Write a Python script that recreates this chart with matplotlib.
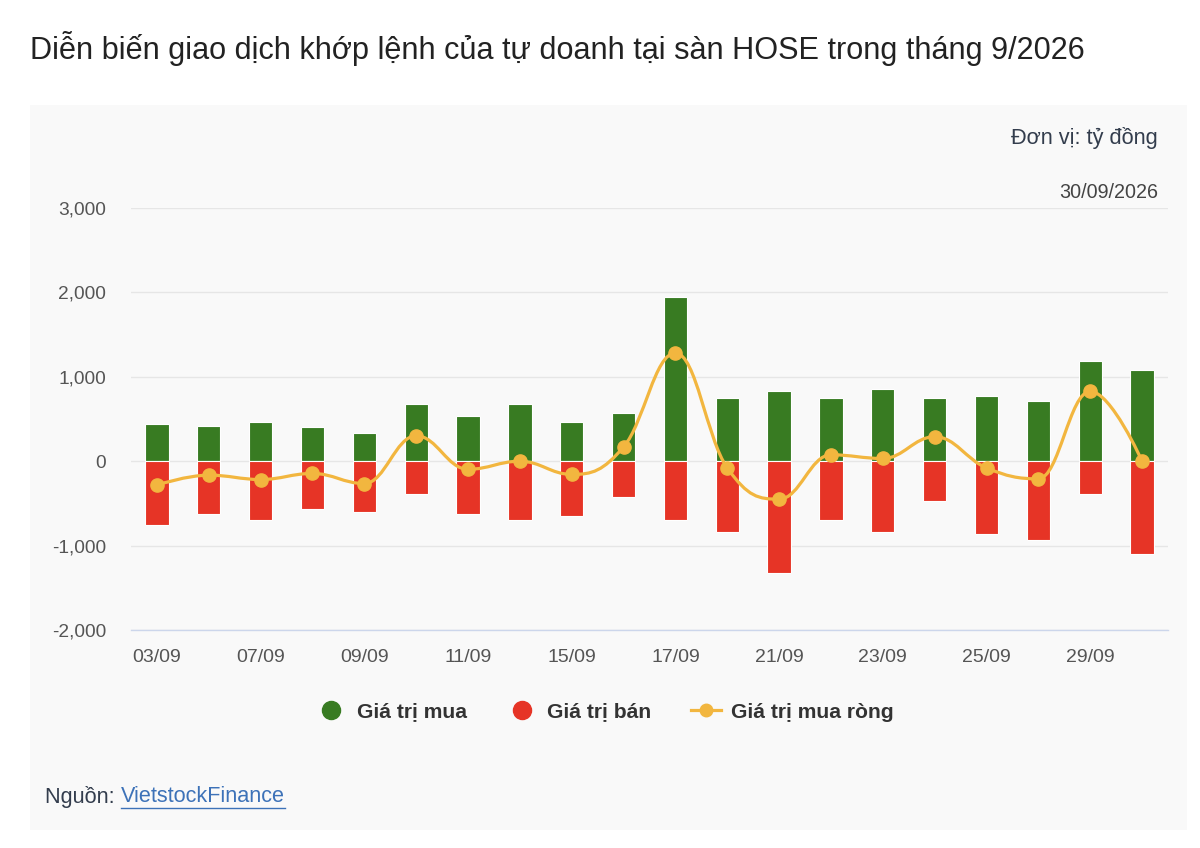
import matplotlib
matplotlib.use("Agg")
import matplotlib.pyplot as plt
from matplotlib.path import Path
from matplotlib.patches import PathPatch, Rectangle
from matplotlib.lines import Line2D
import numpy as np

plt.rcParams['font.family'] = ['Liberation Sans', 'DejaVu Sans']

# data (ty dong)
dates = ["03/09", "04/09", "07/09", "08/09", "09/09", "10/09", "11/09", "14/09",
         "15/09", "16/09", "17/09", "18/09", "21/09", "22/09", "23/09", "24/09",
         "25/09", "28/09", "29/09", "30/09"]
buy_values = [442, 422, 466, 402, 334, 683, 530, 683, 466, 575,
              1950, 748, 836, 748, 856, 748, 768, 708, 1186, 1077]
sell_values = [-755, -627, -695, -563, -607, -386, -627, -695, -647, -426,
               -695, -844, -1323, -695, -844, -474, -864, -933, -386, -1105]
net_values = [-281, -165, -217, -145, -265, 301, -96, 0, -157, 169,
              1282, -80, -450, 76, 32, 290, -80, -209, 828, 0]
y_ticks = [-2000, -1000, 0, 1000, 2000, 3000]

GREEN = "#387b22"
RED = "#e63426"
YELLOW = "#f2b63f"
PANEL = "#f9f9f9"


def spline_path(xs, ys, smoothing=1.5):
    """Highcharts-style spline as cubic bezier path"""
    n = len(xs)
    lc = [None] * n
    rc = [None] * n
    denom = smoothing + 1
    for i in range(1, n - 1):
        px, py = xs[i], ys[i]
        lx, ly = xs[i - 1], ys[i - 1]
        nx, ny = xs[i + 1], ys[i + 1]
        lcx = (smoothing * px + lx) / denom
        lcy = (smoothing * py + ly) / denom
        rcx = (smoothing * px + nx) / denom
        rcy = (smoothing * py + ny) / denom
        if rcx != lcx:
            corr = ((rcy - lcy) * (rcx - px)) / (rcx - lcx) + py - rcy
            lcy += corr
            rcy += corr
        if lcy > ly and lcy > py:
            lcy = max(ly, py)
            rcy = 2 * py - lcy
        elif lcy < ly and lcy < py:
            lcy = min(ly, py)
            rcy = 2 * py - lcy
        if rcy > ny and rcy > py:
            rcy = max(ny, py)
            lcy = 2 * py - rcy
        elif rcy < ny and rcy < py:
            rcy = min(ny, py)
            lcy = 2 * py - rcy
        lc[i] = (lcx, lcy)
        rc[i] = (rcx, rcy)
    verts = [(xs[0], ys[0])]
    codes = [Path.MOVETO]
    for i in range(1, n):
        c1 = rc[i - 1] if rc[i - 1] is not None else (xs[i - 1], ys[i - 1])
        c2 = lc[i] if lc[i] is not None else (xs[i], ys[i])
        verts += [c1, c2, (xs[i], ys[i])]
        codes += [Path.CURVE4] * 3
    return Path(verts, codes)


fig = plt.figure(figsize=(12, 8.48), dpi=100)
fig.patch.set_facecolor("white")

# light panel behind the chart
fig.patches.append(Rectangle((30 / 1200, 1 - 830 / 848), 1157 / 1200, 725 / 848,
                             transform=fig.transFigure, facecolor=PANEL,
                             edgecolor="none", zorder=-5))

ax = fig.add_axes([131 / 1200, 1 - 630 / 848, 1037 / 1200, 422 / 848])
ax.set_facecolor("none")
ax.set_zorder(2)

x = np.arange(len(dates))
ax.bar(x, buy_values, width=0.45, color=GREEN, edgecolor="white", linewidth=0.8, zorder=2)
ax.bar(x, sell_values, width=0.45, color=RED, edgecolor="white", linewidth=0.8, zorder=2)

path = spline_path(list(x.astype(float)), net_values)
ax.add_patch(PathPatch(path, facecolor="none", edgecolor=YELLOW, linewidth=2.3, zorder=3))
ax.plot(x, net_values, linestyle="none", marker="o", markersize=9.5,
        color=YELLOW, zorder=4)

ax.set_xlim(-0.5, len(dates) - 0.5)
ax.set_ylim(-2000, 3000)
ax.set_yticks(y_ticks)
ax.set_yticklabels([f"{v:,}" for v in y_ticks])
ax.set_xticks(x[::2])
ax.set_xticklabels(dates[::2])
ax.grid(axis="y", color="#e6e6e6", linewidth=1, zorder=0)
ax.set_axisbelow(True)
for s in ["top", "right", "left"]:
    ax.spines[s].set_visible(False)
ax.spines["bottom"].set_color("#ccd6eb")
ax.spines["bottom"].set_linewidth(1)
ax.tick_params(axis="both", length=0, labelsize=14, labelcolor="#555555")
ax.tick_params(axis="y", labelsize=13.8, pad=18)
ax.tick_params(axis="x", pad=14)

# title and notes
fig.text(30 / 1200, 1 - 48 / 848, "Diễn biến giao dịch khớp lệnh của tự doanh tại sàn HOSE trong tháng 9/2026",
         fontsize=22.1, color="#222222", va="center", ha="left")
fig.text(1158 / 1200, 1 - 138 / 848, "Đơn vị: tỷ đồng", fontsize=15.7,
         color="#333d4d", ha="right", va="center")
fig.text(1158 / 1200, 1 - 192 / 848, "30/09/2026", fontsize=14.2,
         color="#444444", ha="right", va="center")

# legend
handles = [
    Line2D([], [], linestyle="none", marker="o", markersize=13, color=GREEN),
    Line2D([], [], linestyle="none", marker="o", markersize=13, color=RED),
    Line2D([], [], color=YELLOW, linewidth=2.3, marker="o", markersize=9),
]
labels = ["Giá trị mua", "Giá trị bán", "Giá trị mua ròng"]
fig.legend(handles, labels, loc="center", bbox_to_anchor=(0.5045, 1 - 712 / 848),
           ncol=3, frameon=False, prop={"size": 15.2, "weight": "bold"},
           labelcolor="#333333", handlelength=1.4, handletextpad=0.5,
           columnspacing=1.9)

# source
t = fig.text(45 / 1200, 1 - 797 / 848, "Nguồn: ", fontsize=15.6, color="#333d4d",
             ha="left", va="center")
fig.canvas.draw()
bb = t.get_window_extent()
link = fig.text(bb.x1 / 1200, 1 - 797 / 848, "VietstockFinance", fontsize=15.6,
                color="#3d72b8", ha="left", va="center")
fig.canvas.draw()
lb = link.get_window_extent()
fig.add_artist(Line2D([lb.x0 / 1200, lb.x1 / 1200],
                      [1 - 808 / 848, 1 - 808 / 848], color="#3d72b8",
                      linewidth=1, transform=fig.transFigure))

fig.savefig("out.png", dpi=100, facecolor="white")
